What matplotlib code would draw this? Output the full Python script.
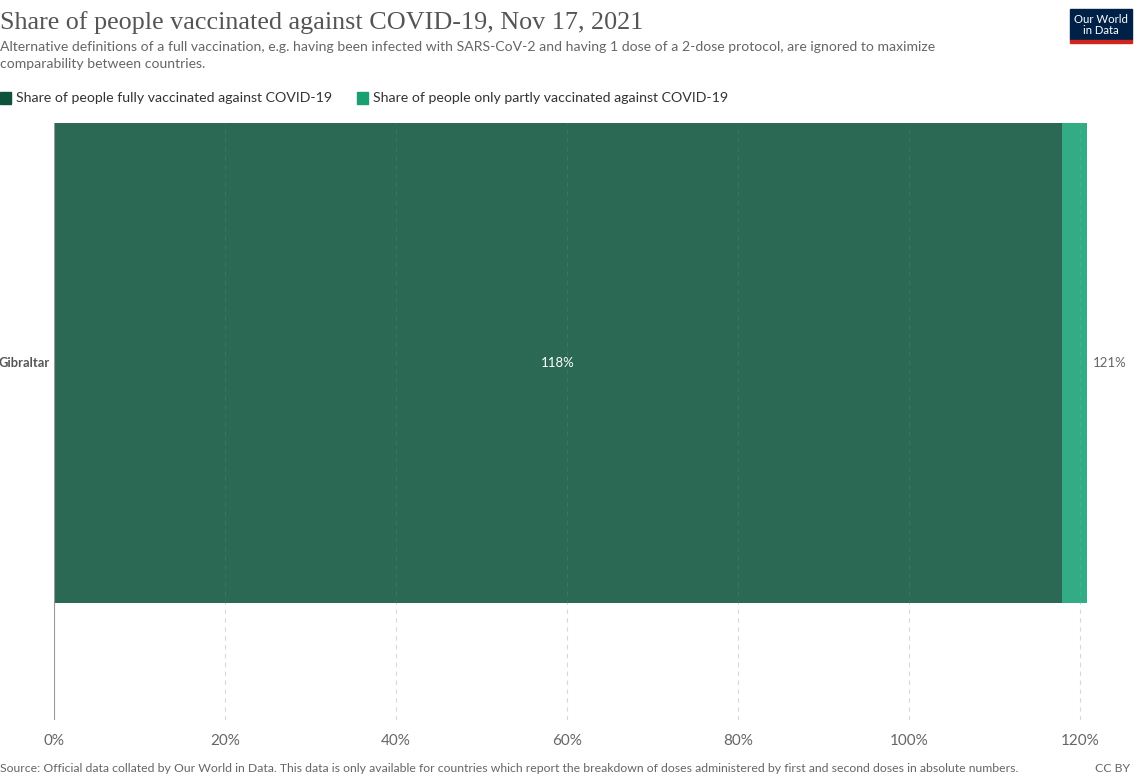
import matplotlib.pyplot as plt
from matplotlib.patches import Rectangle

countries = ['Gibraltar']
fully = [117.9]
partly = [2.9]
ticks = [0, 20, 40, 60, 80, 100, 120]
tick_labels = ['0%', '20%', '40%', '60%', '80%', '100%', '120%']

W, H = 1148, 782
fig = plt.figure(figsize=(W / 100, H / 100), dpi=100)

# axes: left 54px, right 1087px, top 123px, bottom 720px
ax = fig.add_axes([54 / W, 1 - 720 / H, (1087 - 54) / W, (720 - 123) / H])
ax.set_xlim(0, fully[0] + partly[0])
ax.set_ylim(-0.744, 0.5)

c_full, c_part = '#2b6954', '#33ab85'
ax.barh(0, fully, height=1, color=c_full, zorder=2)
ax.barh(0, partly, left=fully, height=1, color=c_part, zorder=2)

for t in ticks[1:]:
    ax.axvline(t, color='#d5d5d5', lw=0.8, ls=(0, (4, 4)), zorder=1)
    ax.axvline(t, color='#ffffff', lw=0.8, ls=(0, (4, 4)), alpha=0.08, zorder=3)
ax.axvline(0, color='#999999', lw=0.8, zorder=4)

for s in ax.spines.values():
    s.set_visible(False)
ax.set_yticks([])
ax.set_xticks(ticks)
ax.set_xticklabels(tick_labels, fontsize=11, color='#666666', family='Lato')
ax.tick_params(axis='x', length=0, pad=10)

ax.text(-0.5, 0, countries[0], ha='right', va='center', fontsize=9.3,
        color='#555555', family='Lato', fontweight='bold')
ax.text(fully[0] / 2, 0, f'{fully[0]:.0f}%', ha='center', va='center',
        fontsize=9.5, color='white', family='Lato')
tot = fully[0] + partly[0]
ax.text(tot + 0.7, 0, f'{tot:.0f}%', ha='left', va='center',
        fontsize=9.5, color='#666666', family='Lato', clip_on=False)

# header
fig.text(0, 1 - 23 / H, 'Share of people vaccinated against COVID-19, Nov 17, 2021',
         ha='left', va='center', fontsize=18.8, color='#555555', family='Liberation Serif')
fig.text(0, 1 - 47 / H,
         'Alternative definitions of a full vaccination, e.g. having been infected with '
         'SARS-CoV-2 and having 1 dose of a 2-dose protocol, are ignored to maximize',
         ha='left', va='center', fontsize=10.1, color='#666666', family='Lato')
fig.text(0, 1 - 64 / H, 'comparability between countries.',
         ha='left', va='center', fontsize=10.1, color='#666666', family='Lato')

# legend
for x0, col, lab in [(0, '#0e5239', 'Share of people fully vaccinated against COVID-19'),
                     (357, '#18a070', 'Share of people only partly vaccinated against COVID-19')]:
    fig.patches.append(Rectangle((x0 / W, 1 - 104 / H), 11 / W, 12 / H,
                                 transform=fig.transFigure, color=col))
    fig.text((x0 + 16) / W, 1 - 98 / H, lab, ha='left', va='center',
             fontsize=10.2, color='#333333', family='Lato')

# logo
fig.patches.append(Rectangle((1070 / W, 1 - 40 / H), 62 / W, 31 / H,
                             transform=fig.transFigure, color='#002147'))
fig.patches.append(Rectangle((1070 / W, 1 - 43 / H), 62 / W, 3 / H,
                             transform=fig.transFigure, color='#ce261e'))
fig.text(1101 / W, 1 - 25 / H, 'Our World\nin Data', ha='center', va='center',
         fontsize=8.2, color='white', family='Lato', linespacing=0.95)

# footer
fig.text(0, 1 - 768 / H,
         'Source: Official data collated by Our World in Data. This data is only available '
         'for countries which report the breakdown of doses administered by first and second '
         'doses in absolute numbers.',
         ha='left', va='center', fontsize=8.85, color='#666666', family='Lato')
fig.text(1130 / W, 1 - 768 / H, 'CC BY', ha='right', va='center',
         fontsize=8.85, color='#666666', family='Lato')

fig.savefig('out.png', dpi=100)
